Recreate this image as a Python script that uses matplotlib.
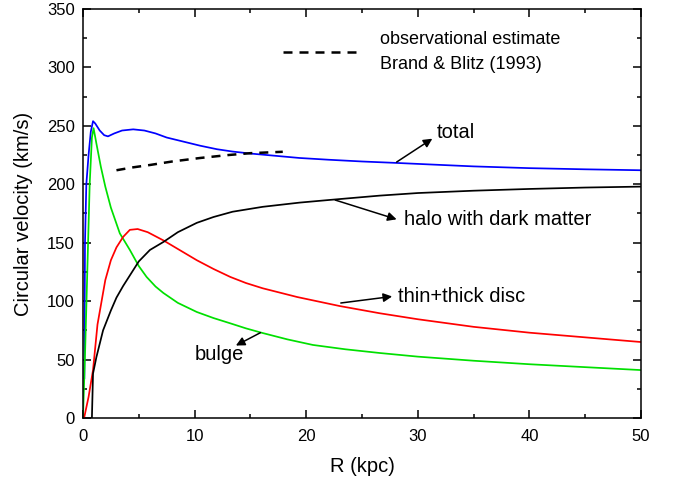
import numpy as np
import matplotlib
matplotlib.use('Agg')
import matplotlib.pyplot as plt
from matplotlib.ticker import MultipleLocator

plt.rcParams['font.family'] = ['Liberation Sans', 'DejaVu Sans']

# rotation curve components, R in kpc, v in km/s
r_total = [0.12, 0.18, 0.3, 0.5, 0.7, 0.9, 1.1, 1.5, 1.9, 2.24, 2.8, 3.5, 4.5, 5.5, 6.5, 7.5, 9, 10.5, 12, 13.4, 15,
           16.5, 19.4, 22, 25, 28, 31, 35, 40, 45, 50]
v_total = [34, 150, 200, 225, 245, 254, 252, 246, 242, 241, 243.5, 246, 247, 246, 243.5, 240, 236.5, 233, 230, 228, 226.3,
           225, 222.5, 221, 219.5, 218.3, 217, 215.3, 213.8, 212.8, 212]

r_bulge = [0, 0.2, 0.4, 0.6, 0.8, 0.95, 1.2, 1.6, 2, 2.5, 3.3, 4.2, 5, 5.7, 6.5, 7.2, 8.5, 10.2, 11.7, 13.2, 14.6, 16.1,
           18.3, 20.6, 23.5, 26.6, 30, 35, 40, 45, 50]
v_bulge = [0, 60, 130, 200, 240, 248, 235, 215, 198, 180, 158, 143.8, 130, 120.7, 112.5, 107, 98.5, 90.7, 85.5, 81, 76.7, 72.7,
           67.3, 62.5, 58.8, 55.6, 52.5, 49, 46, 43.5, 41]

r_disc = [0.1, 0.5, 0.9, 1.3, 2, 2.5, 3, 3.6, 4.2, 4.9, 5.8, 7.2, 8.7, 10.2, 11.7, 13.2, 14.6, 16.1, 19.2, 23, 26.6,
          30, 35, 40, 45, 50]
v_disc = [0, 18, 41, 80, 118, 135, 146, 155, 161, 161.7, 159, 152, 143.5, 135, 127.5, 120.7, 115.5, 111, 103.5, 95.8, 89.6,
          84.5, 78, 73, 69, 65]

r_halo = [0.8, 0.9, 1.2, 1.8, 2.5, 3, 3.6, 4.2, 5, 6, 7.2, 8.5, 10.2, 11.7, 13.4, 16.1, 19.4, 22.1, 26.6, 30, 35, 40,
          45, 50]
v_halo = [0, 38, 52, 75, 92, 103, 113, 122, 134, 143.8, 150.6, 159, 167, 172, 176.5, 180.7, 184.3, 186.6, 190.3, 192.5,
          194.5, 196, 197.2, 198]

# Brand & Blitz (1993)
r_obs = [3, 4.5, 6, 8, 10.5, 13, 15, 17.9]
v_obs = [212, 214.5, 216.5, 219.5, 222.5, 225, 226.6, 227.8]

fig = plt.figure(figsize=(6.73, 4.83), dpi=100)
ax = fig.add_axes([0.1233, 0.1346, 0.8292, 0.8468])

lw = 1.25
ax.plot(r_total, v_total, color='#0000ff', lw=lw)
ax.plot(r_bulge, v_bulge, color='#00e000', lw=lw)
ax.plot(r_disc, v_disc, color='#ff0000', lw=lw)
ax.plot(r_halo, v_halo, color='black', lw=lw)
ax.plot(r_obs, v_obs, color='black', lw=1.8, linestyle=(0, (3.6, 2.8)),
        label='observational estimate\nBrand & Blitz (1993)')

ax.set_xlim(0, 50)
ax.set_ylim(0, 350)
ax.xaxis.set_major_locator(MultipleLocator(10))
ax.xaxis.set_minor_locator(MultipleLocator(5))
ax.yaxis.set_major_locator(MultipleLocator(50))
ax.yaxis.set_minor_locator(MultipleLocator(25))
ax.tick_params(which='both', direction='in', top=True, right=True, width=1.1, labelsize=12)
ax.tick_params(which='major', length=6)
ax.tick_params(which='minor', length=3)
ax.tick_params(axis='x', pad=8)
ax.tick_params(axis='y', pad=6)
for s in ax.spines.values():
    s.set_linewidth(1.1)

ax.set_xlabel('R (kpc)', fontsize=14.5, labelpad=9)
ax.set_ylabel('Circular velocity (km/s)', fontsize=14.5, labelpad=10)

leg = ax.legend(loc='upper left', bbox_to_anchor=(0.33, 0.985), frameon=False,
                fontsize=13, handlelength=4.25, handletextpad=1.1)
for t in leg.get_texts():
    t.set_linespacing(1.55)

arrow = dict(arrowstyle='-|>', color='black', lw=1.1, mutation_scale=13, shrinkA=0, shrinkB=0)
tsize = 14.5
ax.annotate('', xy=(31.3, 239), xytext=(28.1, 219), arrowprops=arrow)
ax.text(31.7, 244, 'total', fontsize=tsize, va='center', ha='left')

ax.annotate('', xy=(28.1, 170), xytext=(22.6, 186.5), arrowprops=arrow)
ax.text(28.8, 170, 'halo with dark matter', fontsize=tsize, va='center', ha='left')

ax.annotate('', xy=(27.7, 104), xytext=(23.1, 98.4), arrowprops=arrow)
ax.text(28.2, 104, 'thin+thick disc', fontsize=tsize, va='center', ha='left')

ax.annotate('', xy=(13.7, 62), xytext=(15.9, 73), arrowprops=arrow)
ax.text(10.0, 54, 'bulge', fontsize=tsize, va='center', ha='left')

fig.savefig('out.png', dpi=100)
